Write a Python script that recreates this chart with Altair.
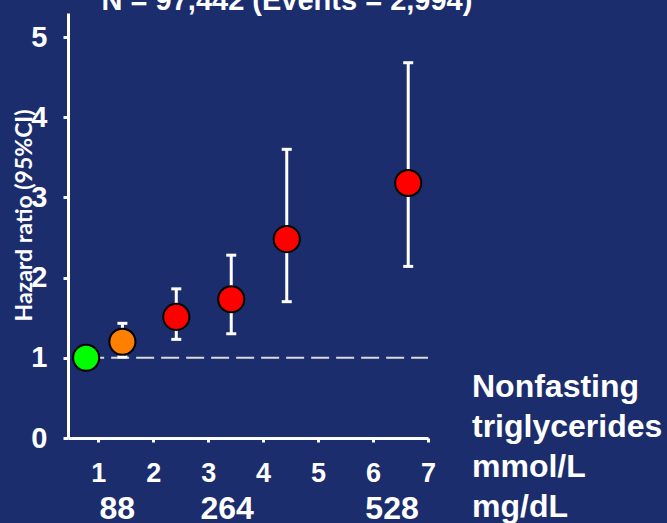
import altair as alt
import pandas as pd
import numpy as np

# Nonfasting triglyceride groups (mmol/L position) and hazard ratios with 95% CI
tg_mmol = [0.78, 1.44, 2.42, 3.42, 4.43, 6.64]
hazard_ratio = [1.00, 1.20, 1.51, 1.73, 2.48, 3.18]
ci_low = [np.nan, 1.01, 1.23, 1.30, 1.70, 2.14]
ci_high = [np.nan, 1.43, 1.86, 2.28, 3.60, 4.68]
point_colors = ["#00FF00", "#FF8000", "#FF0000", "#FF0000", "#FF0000", "#FF0000"]

# Axis ticks and the secondary mg/dL row
x_ticks = [1, 2, 3, 4, 5, 6, 7]
y_ticks = [0, 1, 2, 3, 4, 5]
mgdl_pos = [1, 3, 6]
mgdl_labels = ["88", "264", "528"]

title_text = "N = 97,442 (Events = 2,994)"
y_title = "Hazard ratio (95%CI)"
unit_lines = ["Nonfasting", "triglycerides", "mmol/L", "mg/dL"]

BG = "#1C2D6D"
WHITE = "#FFFFFF"
FONT = "Liberation Sans"

df = pd.DataFrame({
    "tg": tg_mmol,
    "hr": hazard_ratio,
    "lo": ci_low,
    "hi": ci_high,
    "color": point_colors,
})
ref_df = pd.DataFrame({"x": [tg_mmol[0]], "x2": [x_ticks[-1]], "y": [1.0]})
mg_df = pd.DataFrame({"x": mgdl_pos, "label": mgdl_labels})

x_scale = alt.Scale(domain=[0.45, 7], nice=False, zero=False)
y_scale = alt.Scale(domain=[0, 5.3], nice=False, zero=False)

x_axis = alt.Axis(
    values=x_ticks, format="d", title=None, grid=False,
    domainColor=WHITE, domainWidth=3,
    tickColor=WHITE, tickWidth=3, tickSize=4,
    labelColor=WHITE, labelFont=FONT, labelFontWeight="bold", labelFontSize=27,
    labelPadding=18, labelFlush=False, labelOverlap=False,
)
y_axis = alt.Axis(
    values=y_ticks, format="d", grid=False,
    domainColor=WHITE, domainWidth=3,
    tickColor=WHITE, tickWidth=3, tickSize=5,
    labelColor=WHITE, labelFont=FONT, labelFontWeight="bold", labelFontSize=29,
    labelPadding=16, labelFlush=False, labelOverlap=False,
    title=y_title, titleColor=WHITE, titleFont="Lato", titleFontWeight="bold",
    titleFontSize=23, titleAngle=270, titleX=-44, titleY=202,
    titleAlign="center", titleBaseline="middle",
)

base = alt.Chart(df)

reference = alt.Chart(ref_df).mark_rule(
    color="#D9D9D9", strokeWidth=2, strokeDash=[18, 7]
).encode(
    x=alt.X("x:Q", scale=x_scale, axis=x_axis),
    x2="x2:Q",
    y=alt.Y("y:Q", scale=y_scale, axis=y_axis),
)

ci = base.transform_filter("isValid(datum.lo)").mark_rule(
    color=WHITE, strokeWidth=3
).encode(
    x=alt.X("tg:Q", scale=x_scale),
    y=alt.Y("lo:Q", scale=y_scale),
    y2="hi:Q",
)

cap_lo = base.transform_filter("isValid(datum.lo)").mark_tick(
    color=WHITE, orient="horizontal", size=10, thickness=3, opacity=1
).encode(x=alt.X("tg:Q", scale=x_scale), y=alt.Y("lo:Q", scale=y_scale))

cap_hi = base.transform_filter("isValid(datum.hi)").mark_tick(
    color=WHITE, orient="horizontal", size=10, thickness=3, opacity=1
).encode(x=alt.X("tg:Q", scale=x_scale), y=alt.Y("hi:Q", scale=y_scale))

points = base.mark_point(
    filled=True, size=680, stroke="#000000", strokeWidth=2, opacity=1, shape="circle"
).encode(
    x=alt.X("tg:Q", scale=x_scale),
    y=alt.Y("hr:Q", scale=y_scale),
    fill=alt.Fill("color:N", scale=None),
)

mg_row = alt.Chart(mg_df).mark_text(
    color=WHITE, font=FONT, fontWeight="bold", fontSize=32,
    align="center", baseline="alphabetic", dx=19,
).encode(
    x=alt.X("x:Q", scale=x_scale),
    y=alt.value(506),
    text="label:N",
)

units = alt.Chart(pd.DataFrame({"t": [0]})).mark_text(
    color=WHITE, font=FONT, fontWeight="bold", fontSize=32,
    align="left", baseline="alphabetic", lineHeight=40,
).encode(
    x=alt.value(404),
    y=alt.value(384),
    text=alt.value(unit_lines),
)

heading = alt.Chart(pd.DataFrame({"t": [0]})).mark_text(
    color=WHITE, font=FONT, fontWeight="bold", fontSize=29,
    align="center", baseline="alphabetic",
).encode(
    x=alt.value(219),
    y=alt.value(-3),
    text=alt.value(title_text),
)

chart = alt.layer(
    reference, ci, cap_lo, cap_hi, points, mg_row, units, heading
).properties(
    width=360,
    height=425,
    padding={"left": 68, "top": 13, "right": 239, "bottom": 85},
    autosize=alt.AutoSizeParams(type="none"),
    background=BG,
).configure_view(stroke=None)

chart.save("out.html", embed_options={"renderer": "svg", "actions": False})
